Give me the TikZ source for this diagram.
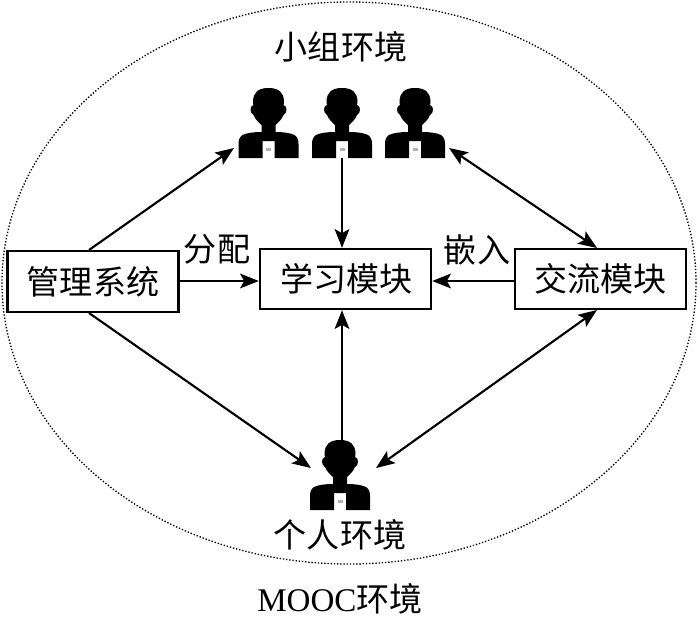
\documentclass[tikz,border=0pt]{standalone}
\usepackage{fontspec}
\setmainfont{Liberation Serif}
\newfontfamily\cjk{Noto Sans CJK SC}
\usetikzlibrary{arrows.meta,shapes.geometric}
\tikzset{
  x=0.75pt,y=-0.75pt,
  box/.style={draw,line width=1.8pt,minimum height=45pt,inner sep=0pt,font=\cjk\fontsize{24.8}{28}\selectfont},
  lab/.style={inner sep=0pt,font=\cjk\fontsize{24.8}{28}\selectfont},
  conn/.style={line width=1.6pt,-{Stealth[length=14pt,width=11pt,inset=3pt]}},
  both/.style={line width=1.6pt,{Stealth[length=14pt,width=11pt,inset=3pt]}-{Stealth[length=14pt,width=11pt,inset=3pt]}},
  person/.style={minimum width=45.75pt,minimum height=52.5pt,inner sep=0pt,
    path picture={
      \begin{scope}[shift={(path picture bounding box.center)}]
      \fill[black] (0,-35) .. controls (-11,-35) and (-15,-30) .. (-15.5,-22)
        .. controls (-15.5,-20) and (-15.5,-19) .. (-15,-18)
        .. controls (-19,-17) and (-19,-10) .. (-15,-8)
        .. controls (-13,-3) and (-9,0) .. (-7,2) -- (-7,9)
        .. controls (-15,9) and (-22,10) .. (-26,12)
        .. controls (-29,14) and (-30,17) .. (-30,21) -- (-30,35) -- (-6,35) -- (-6,18) -- (6,18) -- (6,35) -- (30,35) -- (30,21)
        .. controls (30,17) and (29,14) .. (26,12)
        .. controls (22,10) and (15,9) .. (7,9) -- (7,2)
        .. controls (9,0) and (13,-3) .. (15,-8)
        .. controls (19,-10) and (19,-17) .. (15,-18)
        .. controls (15.5,-19) and (15.5,-20) .. (15.5,-22)
        .. controls (15,-30) and (11,-35) .. (0,-35) -- cycle;
      \fill[black!30] (-2.5,25) rectangle (2.5,28);
      \end{scope}
    }},
}
\begin{document}
\begin{tikzpicture}
\useasboundingbox (0,0) rectangle (700,622);
\node[draw,dash pattern=on 1pt off 1.4pt,line width=1pt,ellipse,minimum width=520.5pt,minimum height=421.5pt,inner sep=0pt] (env) at (349,283) {};
\node[box,minimum width=128.25pt,minimum height=45.75pt] (m) at (93,281.5) {\raisebox{-0.5pt}{管理系统}};
\node[box,minimum width=128.25pt] (s) at (345.5,279) {\raisebox{-1pt}{\hspace{1.5pt}学习模块}};
\node[box,minimum width=128.25pt] (c) at (600.5,279) {\raisebox{-1pt}{交流模块}};
\node[person] (p1) at (268.5,123) {};
\node[person] (p2) at (342,123) {};
\node[person] (p3) at (415,123) {};
\node[person] (p4) at (340,475) {};
\node[lab] (t1) at (341,47) {小组环境};
\node[lab] (t2) at (340,535) {个人环境};
\node[lab] (t3) at (217,249) {分配};
\node[lab] (t4) at (477,250) {嵌入};
\node[inner sep=0pt,font=\fontsize{24.8}{28}\selectfont] (t5) at (340,599) {MOOC{\cjk 环境}};
\coordinate (mt) at (89,250);
\coordinate (mb) at (89,313);
\coordinate (a1) at (234,148);
\coordinate (a3) at (449,148);
\coordinate (ct) at (597,248);
\coordinate (cb) at (597,310);
\coordinate (a4l) at (311,468);
\coordinate (a4r) at (376,468);
\coordinate (hy) at (345,281);
\draw[conn] (mt) -- (a1);
\draw[conn] (m.east |- hy) -- (s.west |- hy);
\draw[conn] (p2.south) -- (p2.south |- s.north);
\draw[conn] (c.west |- hy) -- (s.east |- hy);
\draw[both] (a3) -- (ct);
\draw[conn] (mb) -- (a4l);
\draw[conn] (p2.south |- p4.north) -- (p2.south |- s.south);
\draw[both] (a4r) -- (cb);
\end{tikzpicture}
\end{document}
